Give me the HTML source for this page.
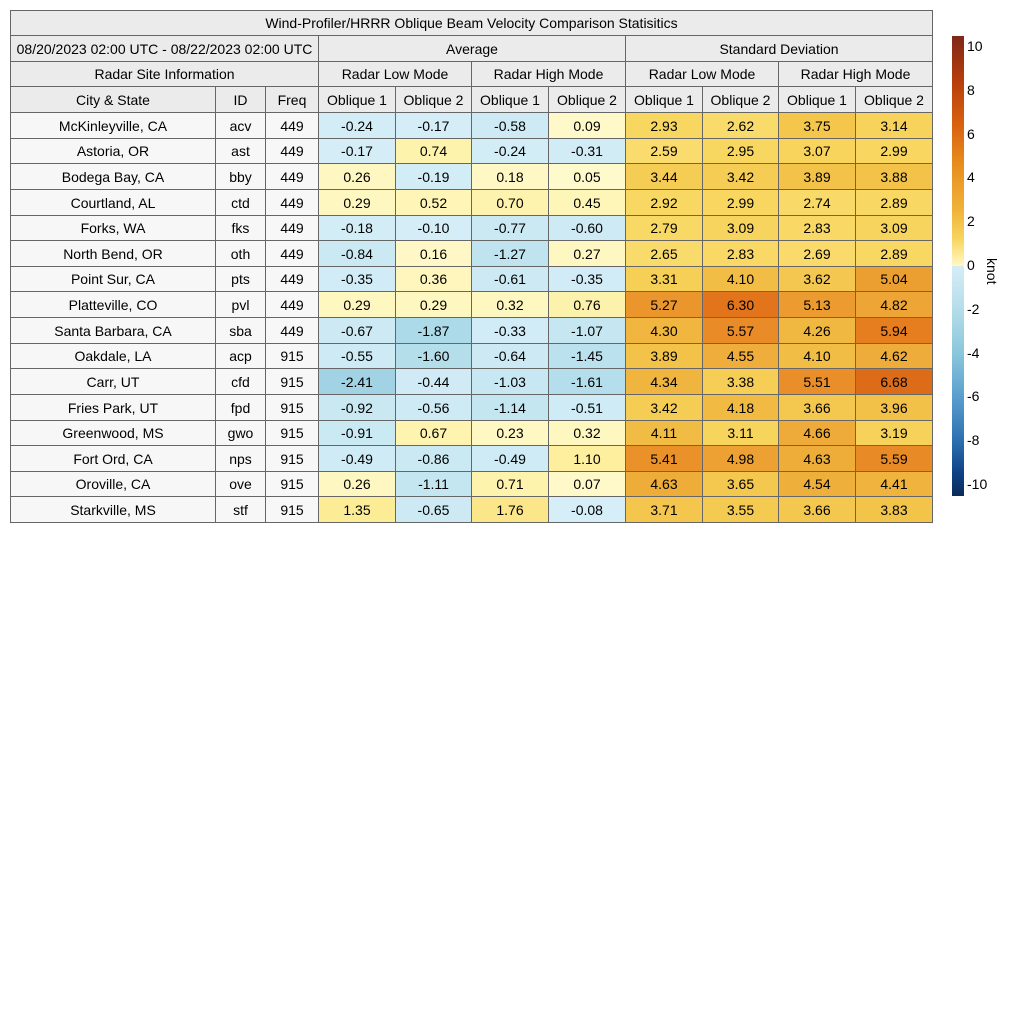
<!DOCTYPE html><html><head><style>
body{margin:0;width:1024px;height:1024px;background:#fff;position:relative;font-family:"Liberation Sans",sans-serif;font-size:14px;color:#000;overflow:hidden}
.c{position:absolute;box-sizing:border-box;border:1px solid #666;display:flex;align-items:center;justify-content:center;white-space:nowrap}
.t{position:absolute;font-size:14px}
</style></head><body><div id="r"></div>
<div style="position:absolute;left:952px;top:36px;width:12px;height:460px;background:linear-gradient(to bottom,#7f2718 0%,#b53d0c 9.5%,#d8600f 19%,#e8901f 28.5%,#f0b43a 38%,#f7d45e 44%,#fde99a 47.5%,#fff8c8 50%,#d4edf7 50%,#b4dde9 59.5%,#8ac6dc 69%,#5a9ece 78.5%,#2c6fb0 88%,#0e4285 95%,#0a2c58 100%)"></div>
<script>
const R=document.getElementById('r');
function cell(x,y,w,h,t,bg){const d=document.createElement('div');d.className='c';d.style.cssText=`left:${x}px;top:${y}px;width:${w+1}px;height:${h+1}px;background:${bg}`;d.textContent=t;R.appendChild(d);}
const H='#ebebeb',L='#f7f7f7';
const cx=[10,215,265,318,395,471,548,625,702,778,855,932];
cell(10,10,922,25,'Wind-Profiler/HRRR Oblique Beam Velocity Comparison Statisitics',H);
cell(10,35,308,26,'08/20/2023 02:00 UTC - 08/22/2023 02:00 UTC',H);
cell(318,35,307,26,'Average',H);cell(625,35,307,26,'Standard Deviation',H);
cell(10,61,308,25,'Radar Site Information',H);
['Radar Low Mode','Radar High Mode','Radar Low Mode','Radar High Mode'].forEach((t,i)=>cell(cx[3+2*i],61,cx[5+2*i]-cx[3+2*i],25,t,H));
['City & State','ID','Freq','Oblique 1','Oblique 2','Oblique 1','Oblique 2','Oblique 1','Oblique 2','Oblique 1','Oblique 2'].forEach((t,i)=>cell(cx[i],86,cx[i+1]-cx[i],26,t,H));
const D=[["McKinleyville, CA","acv",449,-0.24,-0.17,-0.58,0.09,2.93,2.62,3.75,3.14],
["Astoria, OR","ast",449,-0.17,0.74,-0.24,-0.31,2.59,2.95,3.07,2.99],
["Bodega Bay, CA","bby",449,0.26,-0.19,0.18,0.05,3.44,3.42,3.89,3.88],
["Courtland, AL","ctd",449,0.29,0.52,0.70,0.45,2.92,2.99,2.74,2.89],
["Forks, WA","fks",449,-0.18,-0.10,-0.77,-0.60,2.79,3.09,2.83,3.09],
["North Bend, OR","oth",449,-0.84,0.16,-1.27,0.27,2.65,2.83,2.69,2.89],
["Point Sur, CA","pts",449,-0.35,0.36,-0.61,-0.35,3.31,4.10,3.62,5.04],
["Platteville, CO","pvl",449,0.29,0.29,0.32,0.76,5.27,6.30,5.13,4.82],
["Santa Barbara, CA","sba",449,-0.67,-1.87,-0.33,-1.07,4.30,5.57,4.26,5.94],
["Oakdale, LA","acp",915,-0.55,-1.60,-0.64,-1.45,3.89,4.55,4.10,4.62],
["Carr, UT","cfd",915,-2.41,-0.44,-1.03,-1.61,4.34,3.38,5.51,6.68],
["Fries Park, UT","fpd",915,-0.92,-0.56,-1.14,-0.51,3.42,4.18,3.66,3.96],
["Greenwood, MS","gwo",915,-0.91,0.67,0.23,0.32,4.11,3.11,4.66,3.19],
["Fort Ord, CA","nps",915,-0.49,-0.86,-0.49,1.10,5.41,4.98,4.63,5.59],
["Oroville, CA","ove",915,0.26,-1.11,0.71,0.07,4.63,3.65,4.54,4.41],
["Starkville, MS","stf",915,1.35,-0.65,1.76,-0.08,3.71,3.55,3.66,3.83]];
const P=[[0,[255,250,205]],[1,[253,240,160]],[2,[251,228,130]],[3,[248,214,95]],[4,[242,192,70]],[5,[236,160,50]],[6,[230,124,30]],[7,[216,100,20]],[8,[200,80,15]],[10,[140,40,20]],[11,[127,39,24]]];
const N=[[0,[214,238,248]],[1,[200,232,242]],[2,[168,216,230]],[3,[150,205,225]],[4,[128,190,218]],[6,[80,150,200]],[8,[35,100,170]],[10,[10,44,88]],[11,[10,44,88]]];
function col(v){const s=v>=0?P:N;v=Math.abs(v);for(let i=0;i<s.length-1;i++){if(v<=s[i+1][0]){const f=(v-s[i][0])/(s[i+1][0]-s[i][0]);return 'rgb('+s[i][1].map((a,k)=>Math.round(a+f*(s[i+1][1][k]-a))).join(',')+')';}}return 'rgb(127,39,24)';}
D.forEach((r,j)=>{const y=Math.round(112+j*25.625),h=Math.round(112+(j+1)*25.625)-y;
for(let i=0;i<11;i++){const v=r[i];cell(cx[i],y,cx[i+1]-cx[i],h,i>2?v.toFixed(2):v,i<3?L:col(v));}});
[10,8,6,4,2,0,-2,-4,-6,-8,-10].forEach(v=>{const d=document.createElement('div');d.className='t';d.style.left='967px';d.style.top=(266-v*21.9-9)+'px';d.textContent=v;R.appendChild(d);});
const k=document.createElement('div');k.className='t';k.style.cssText='top:258px;transform:rotate(90deg);transform-origin:left top;left:1000px';k.textContent='knot';R.appendChild(k);
</script></body></html>
